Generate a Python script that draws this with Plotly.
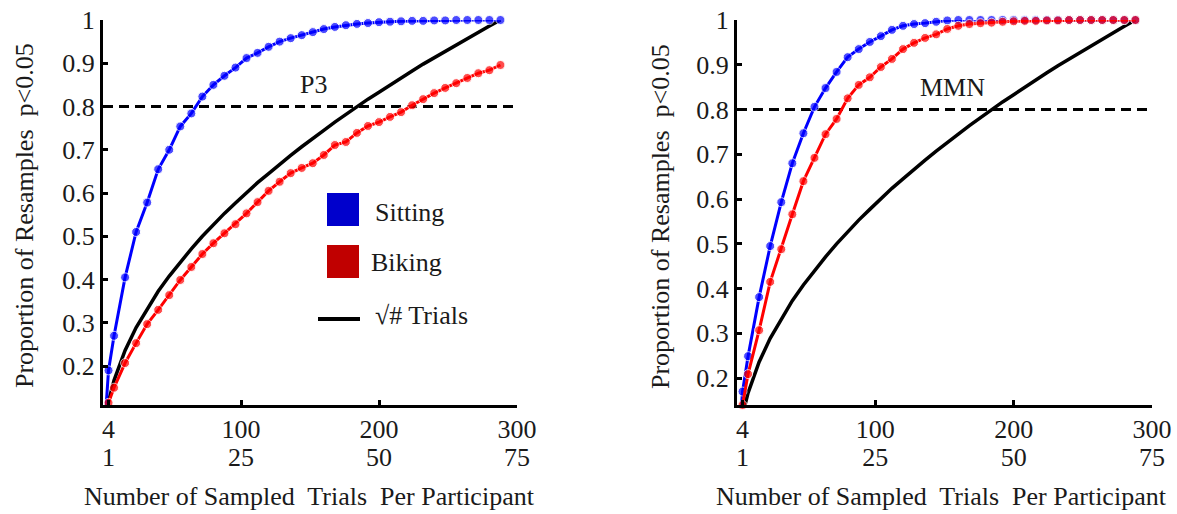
import plotly.graph_objects as go

# ---------------- data ----------------
trials = [0, 4, 8, 16, 24, 32, 40, 48, 56, 64, 72, 80, 88, 96, 104, 112, 120, 128, 136,
          144, 152, 160, 168, 176, 184, 192, 200, 208, 216, 224, 232, 240, 248, 256,
          264, 272, 280, 288]

p3_sitting = [0, 0.19, 0.27, 0.405, 0.51, 0.578, 0.655, 0.70, 0.754, 0.784, 0.823, 0.85,
              0.871, 0.89, 0.912, 0.924, 0.938, 0.95, 0.958, 0.965, 0.972, 0.979, 0.984,
              0.988, 0.991, 0.993, 0.995, 0.996, 0.997, 0.998, 0.998, 0.999, 0.999, 1.0,
              1.0, 1.0, 1.0, 1.0]
p3_biking = [0, 0.115, 0.15, 0.207, 0.253, 0.297, 0.33, 0.364, 0.399, 0.429, 0.459, 0.484,
             0.507, 0.528, 0.553, 0.579, 0.605, 0.626, 0.646, 0.658, 0.669, 0.688, 0.711,
             0.718, 0.739, 0.755, 0.764, 0.776, 0.787, 0.803, 0.817, 0.831, 0.843, 0.854,
             0.866, 0.877, 0.884, 0.896]
mmn_sitting = [0, 0.17, 0.249, 0.381, 0.495, 0.593, 0.68, 0.747, 0.806, 0.848, 0.884, 0.917,
               0.935, 0.951, 0.964, 0.978, 0.987, 0.991, 0.993, 0.996, 0.999, 1.0, 1.0,
               1.0, 1.0, 1.0, 1.0, 1.0, 1.0, 1.0, 1.0, 1.0, 1.0, 1.0, 1.0, 1.0, 1.0, 1.0]
mmn_biking = [0, 0.14, 0.209, 0.307, 0.415, 0.488, 0.566, 0.64, 0.692, 0.745, 0.779, 0.825,
              0.855, 0.872, 0.895, 0.913, 0.935, 0.949, 0.96, 0.968, 0.98, 0.987, 0.991,
              0.993, 0.994, 0.996, 0.997, 0.998, 0.998, 0.999, 0.999, 1.0, 1.0, 1.0, 1.0,
              1.0, 1.0, 1.0]
sqrt_trials = [0, 0.118, 0.167, 0.236, 0.289, 0.333, 0.373, 0.408, 0.441, 0.471, 0.5, 0.527,
               0.553, 0.577, 0.601, 0.624, 0.645, 0.667, 0.687, 0.707, 0.727, 0.745, 0.764,
               0.782, 0.799, 0.817, 0.833, 0.850, 0.866, 0.882, 0.898, 0.913, 0.928, 0.943,
               0.957, 0.972, 0.986, 1.0]

threshold = 0.8
x_range = [0, 300]
tick_trials = [4, 100, 200, 300]
tick_trials_text = ["4", "100", "200", "300"]
tick_part_text = ["1", "25", "50", "75"]
y_ticks = [0.2, 0.3, 0.4, 0.5, 0.6, 0.7, 0.8, 0.9, 1.0]
y_ticks_text = ["0.2", "0.3", "0.4", "0.5", "0.6", "0.7", "0.8", "0.9", "1"]
panel_labels = ["P3", "MMN"]
legend_labels = ["Sitting", "Biking", "\u221a# Trials"]

# ---------------- layout helpers ----------------
W, H = 1177, 514
FONT = "Times New Roman"
FS = 26
TXT = "#1a1a1a"
BLUE = "#0000ff"
RED = "#ff0000"


def px(x):
    return x / W


def py(y):
    return 1 - y / H


fig = go.Figure()

msize = [0] + [9] * (len(trials) - 1)

panels = [
    dict(xa="x", ya="y", sit=p3_sitting, bik=p3_biking),
    dict(xa="x2", ya="y2", sit=mmn_sitting, bik=mmn_biking),
]
for p in panels:
    fig.add_trace(go.Scatter(x=x_range, y=[threshold, threshold], mode="lines",
                             line=dict(color="black", width=3, dash="10px,6px"),
                             xaxis=p["xa"], yaxis=p["ya"], showlegend=False,
                             hoverinfo="skip"))
    fig.add_trace(go.Scatter(x=trials, y=sqrt_trials, mode="lines",
                             line=dict(color="black", width=3.5),
                             xaxis=p["xa"], yaxis=p["ya"], showlegend=False))
    fig.add_trace(go.Scatter(x=trials, y=p["sit"], mode="lines+markers",
                             line=dict(color=BLUE, width=3),
                             marker=dict(color=BLUE, size=msize),
                             cliponaxis=False,
                             xaxis=p["xa"], yaxis=p["ya"], showlegend=False))
    fig.add_trace(go.Scatter(x=trials, y=p["bik"], mode="lines+markers",
                             line=dict(color=RED, width=3),
                             marker=dict(color=RED, size=msize),
                             cliponaxis=False,
                             xaxis=p["xa"], yaxis=p["ya"], showlegend=False))

# dummy traces for the tick-label axes
for xa, ya in (("x3", "y"), ("x4", "y2"), ("x5", "y"), ("x6", "y2")):
    fig.add_trace(go.Scatter(x=[], y=[], xaxis=xa, yaxis=ya, showlegend=False))

ydom = [py(405), py(20)]
xdom1 = [px(103), px(517)]
xdom2 = [px(737), px(1152)]
label_pos = py(411)

tf = dict(family=FONT, size=FS, color=TXT)
common_x = dict(range=x_range, showgrid=False, zeroline=False, showline=True,
                linewidth=3, linecolor="black", ticks="inside", ticklen=5,
                tickwidth=2.5, tickcolor="black", tickvals=tick_trials,
                showticklabels=False, automargin=False, fixedrange=True)
lab_x = dict(range=x_range, showgrid=False, zeroline=False, showline=False,
             ticks="", tickvals=tick_trials, tickfont=tf, side="bottom",
             anchor="free", position=label_pos, automargin=False)
common_y = dict(showgrid=False, zeroline=False, showline=True, linewidth=3,
                linecolor="black", ticks="inside", ticklen=5, tickwidth=2.5,
                tickcolor="black", tickvals=y_ticks, ticktext=y_ticks_text,
                tickfont=tf, domain=ydom, automargin=False)

fig.update_layout(
    width=W, height=H, margin=dict(l=0, r=0, t=0, b=0, autoexpand=False),
    font=dict(family=FONT, color=TXT),
    paper_bgcolor="white", plot_bgcolor="white", showlegend=False,
    xaxis=dict(domain=xdom1, anchor="y", **common_x),
    xaxis2=dict(domain=xdom2, anchor="y2", **common_x),
    xaxis3=dict(overlaying="x", ticktext=tick_trials_text, ticklabelstandoff=0, **lab_x),
    xaxis4=dict(overlaying="x2", ticktext=tick_trials_text, ticklabelstandoff=0, **lab_x),
    xaxis5=dict(overlaying="x", ticktext=tick_part_text, ticklabelstandoff=28, **lab_x),
    xaxis6=dict(overlaying="x2", ticktext=tick_part_text, ticklabelstandoff=28, **lab_x),
    yaxis=dict(range=[0.11, 1.0], anchor="x", **common_y),
    yaxis2=dict(range=[0.14, 1.0], anchor="x2", **common_y),
)

annots = []
ytitle = "Proportion of Resamples&nbsp; p&lt;0.05"
xtitle = "Number of Sampled&nbsp; Trials&nbsp; Per Participant"
for xc in (24, 660):
    annots.append(dict(text=ytitle, x=px(xc), y=py(216), xref="paper", yref="paper",
                       textangle=-90, showarrow=False, xanchor="center", yanchor="middle",
                       font=tf))
for xc in (309, 941):
    annots.append(dict(text=xtitle, x=px(xc), y=py(496), xref="paper", yref="paper",
                       showarrow=False, xanchor="center", yanchor="middle", font=tf))
for lab, (xc, yc) in zip(panel_labels, [(313, 85), (952, 87)]):
    annots.append(dict(text=lab, x=px(xc), y=py(yc), xref="paper", yref="paper",
                       showarrow=False, xanchor="center", yanchor="middle", font=tf))
# legend text
for lab, (xl, yc) in zip(legend_labels, [(373, 212), (369, 262), (373, 315)]):
    annots.append(dict(text=lab, x=px(xl), y=py(yc), xref="paper", yref="paper",
                       showarrow=False, xanchor="left", yanchor="middle", font=tf))
fig.update_layout(annotations=annots)

shapes = [
    dict(type="rect", xref="paper", yref="paper", x0=px(327), x1=px(359),
         y0=py(226), y1=py(193), fillcolor="#0000cc", line=dict(width=0)),
    dict(type="rect", xref="paper", yref="paper", x0=px(327), x1=px(359),
         y0=py(278), y1=py(245), fillcolor="#c00000", line=dict(width=0)),
    dict(type="line", xref="paper", yref="paper", x0=px(318), x1=px(360),
         y0=py(319), y1=py(319), line=dict(color="black", width=4)),
]
fig.update_layout(shapes=shapes)

fig.write_html("out.html")
